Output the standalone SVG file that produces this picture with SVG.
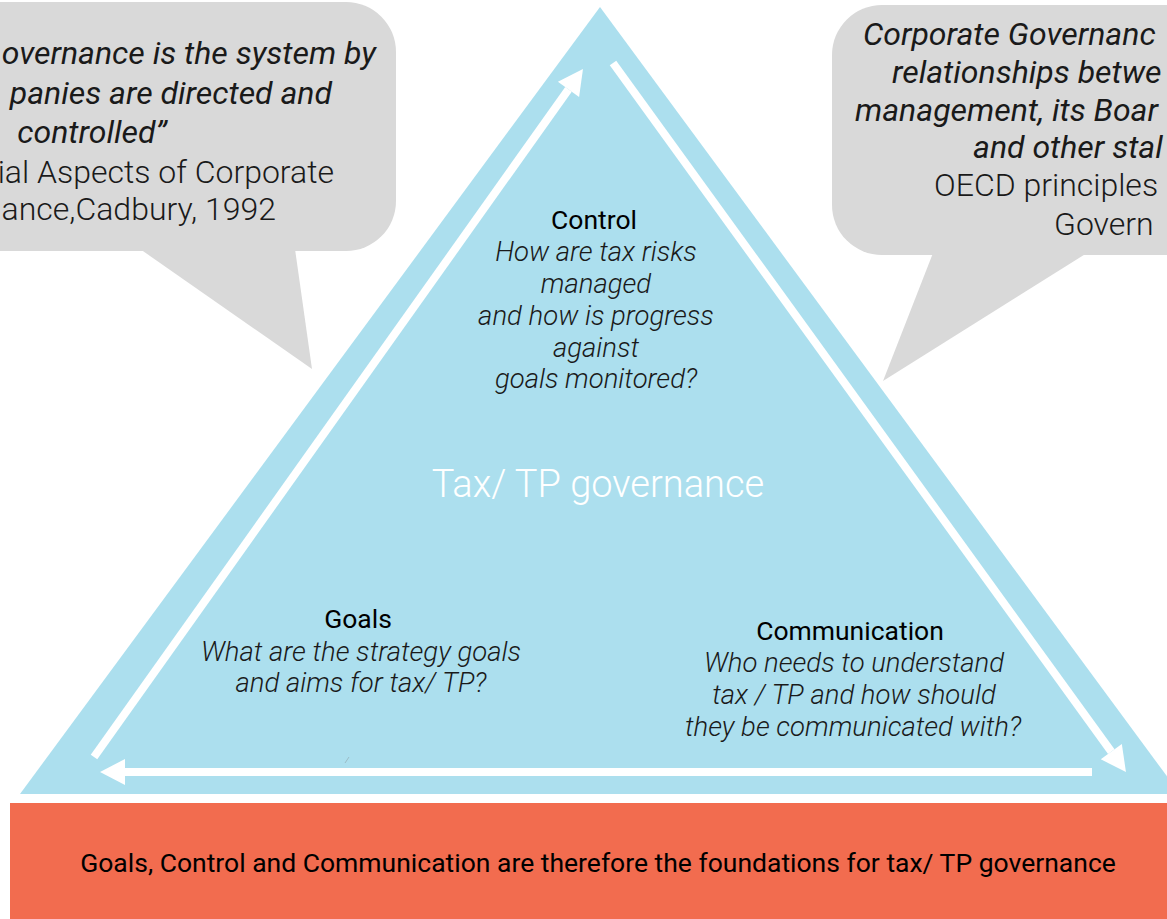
<svg xmlns="http://www.w3.org/2000/svg" width="1167" height="919" viewBox="0 0 1167 919">
<style>
.bubble{fill:#D9D9D9}
.quote{font-family:Roboto,"Liberation Sans",sans-serif;font-size:32px;font-style:italic;font-weight:400;fill:#1a1a1a}
.src{font-family:Roboto,"Liberation Sans",sans-serif;font-size:32px;font-weight:300;fill:#1a1a1a}
.head{font-family:Roboto,"Liberation Sans",sans-serif;font-size:26.5px;font-weight:400;fill:#000;text-anchor:middle}
.q{font-family:Roboto,"Liberation Sans",sans-serif;font-size:27.5px;font-style:italic;font-weight:300;fill:#1a1a1a;text-anchor:middle}
.conn{stroke:#fff;stroke-width:8;fill:none;marker-end:url(#ah)}
</style>
<defs>
<marker id="ah" markerUnits="userSpaceOnUse" markerWidth="26" markerHeight="26" refX="0" refY="13" orient="auto" overflow="visible">
<path d="M0,0 L25,13 L0,26 z" fill="#fff"/>
</marker>
</defs>
<rect x="0" y="0" width="1167" height="919" fill="#fff"/>

<g id="bubble-cadbury">
<rect class="bubble" x="-80" y="2" width="476" height="249" rx="50" ry="50"/>
<polygon class="bubble" points="140,249 312,369 295,249"/>
<text class="quote" x="376" y="64" text-anchor="end">overnance is the system by</text>
<text class="quote" x="332" y="104" text-anchor="end">panies are directed and</text>
<text class="quote" x="92" y="143" text-anchor="middle">controlled”</text>
<text class="src" x="334" y="183" text-anchor="end">ial Aspects of Corporate</text>
<text class="src" x="276" y="220" text-anchor="end">ance,Cadbury, 1992</text>
</g>

<g id="bubble-oecd">
<rect class="bubble" x="832" y="5" width="420" height="250" rx="50" ry="50"/>
<polygon class="bubble" points="933,253 883,381 1087,253"/>
<text class="quote" x="863" y="45">Corporate Governanc</text>
<text class="quote" x="892" y="83">relationships betwe</text>
<text class="quote" x="855" y="121">management, its Boar</text>
<text class="quote" x="973" y="158">and other stal</text>
<text class="src" x="934" y="196">OECD principles</text>
<text class="src" x="1054" y="235">Govern</text>
</g>

<g id="triangle">
<polygon points="600,7 1180,794 20,794" fill="#ACDFEE"/>
<line x1="345" y1="763" x2="349" y2="757" stroke="#9bbcc6" stroke-width="1"/>
<text x="598" y="497" text-anchor="middle" font-family="Roboto,'Liberation Sans',sans-serif" font-size="38" font-weight="300" fill="#fff">Tax/ TP governance</text>
</g>

<g id="node-control">
<text class="head" x="594" y="229">Control</text>
<text class="q" x="596" y="261">How are tax risks</text>
<text class="q" x="596" y="293">managed</text>
<text class="q" x="596" y="325">and how is progress</text>
<text class="q" x="596" y="357">against</text>
<text class="q" x="596" y="388">goals monitored?</text>
</g>

<g id="node-goals">
<text class="head" x="358" y="628">Goals</text>
<text class="q" x="361" y="661">What are the strategy goals</text>
<text class="q" x="361" y="692">and aims for tax/ TP?</text>
</g>

<g id="node-communication">
<text class="head" x="850" y="640">Communication</text>
<text class="q" x="854" y="672">Who needs to understand</text>
<text class="q" x="854" y="704">tax / TP and how should</text>
<text class="q" x="853" y="736">they be communicated with?</text>
</g>

<g id="connectors">
<line class="conn" x1="94" y1="757" x2="568.5" y2="89.4"/>
<line class="conn" x1="613" y1="63" x2="1111.3" y2="751.7"/>
<line class="conn" x1="1092" y1="772" x2="125" y2="772"/>
</g>

<g id="foundation">
<rect x="10" y="803" width="1167" height="120" fill="#F26C4F"/>
<text class="head" x="598" y="872">Goals, Control and Communication are therefore the foundations for tax/ TP governance</text>
</g>
</svg>
